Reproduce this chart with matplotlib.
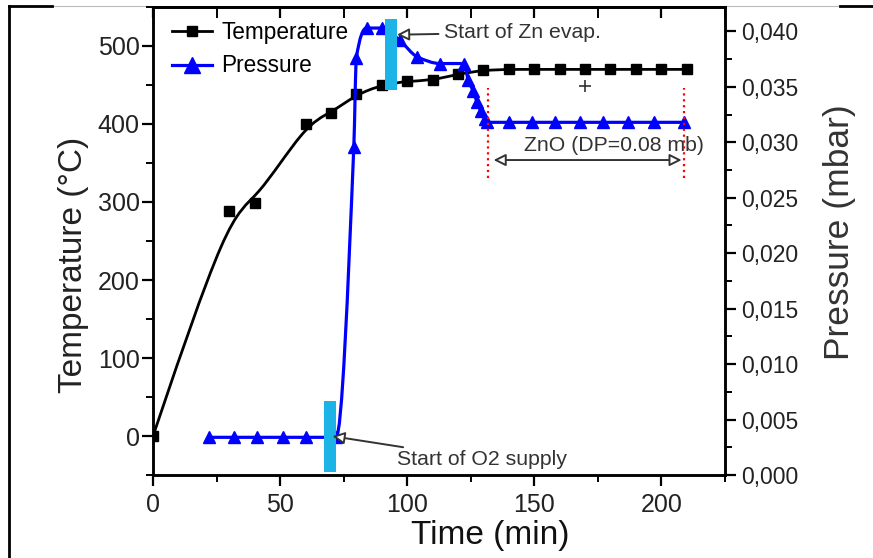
import numpy as np
import matplotlib
matplotlib.use("Agg")
import matplotlib.pyplot as plt
from matplotlib.path import Path
from matplotlib.patches import PathPatch
from matplotlib.lines import Line2D
from matplotlib.ticker import MultipleLocator, FuncFormatter

# temperature log (left axis)
temp_t = [0, 30, 40, 60, 70, 80, 90, 100, 110, 120, 130, 140, 150, 160, 170, 180, 190, 200, 210]
temp_c = [0, 288, 299, 400, 414, 438, 450, 455, 456, 464, 469, 470, 470, 470, 470, 470, 470, 470, 470]

# chamber pressure (right axis, mbar)
pres_t = [22, 32, 41, 51, 60, 72, 79, 80, 84, 90, 97, 104, 113, 122.5,
          124, 126, 127.5, 129, 130.5, 131.5,
          140, 149, 158, 168, 177, 187, 197, 209]
pres_mbar = [0.0034, 0.0034, 0.0034, 0.0034, 0.0034, 0.0034, 0.0296, 0.0376, 0.0403, 0.0403,
             0.0392, 0.0377, 0.0371, 0.0371,
             0.0356, 0.0346, 0.0336, 0.0328, 0.0321, 0.0318,
             0.0318, 0.0318, 0.0318, 0.0318, 0.0318, 0.0318, 0.0318, 0.0318]

# process events (cyan bars), in pressure units
event_t = [69.5, 93.5]
event_lo = [0.0003, 0.0347]
event_hi = [0.0067, 0.0411]

# ZnO deposition window
zno_start, zno_end = 131.8, 209
plus_t, plus_c = [170], [449]

NARROW = ['Liberation Sans Narrow', 'Liberation Sans', 'DejaVu Sans']
plt.rcParams['font.family'] = ['Liberation Sans', 'DejaVu Sans']
GREY = '#333333'


def pchip_path(xs, ys):
    # monotone cubic through the points -> bezier segments
    x = np.asarray(xs, float)
    y = np.asarray(ys, float)
    h = np.diff(x)
    d = np.diff(y) / h
    m = np.zeros_like(y)
    m[0], m[-1] = d[0], d[-1]
    for k in range(1, len(x) - 1):
        if d[k - 1] * d[k] <= 0:
            m[k] = 0
        else:
            w1 = 2 * h[k] + h[k - 1]
            w2 = h[k] + 2 * h[k - 1]
            m[k] = (w1 + w2) / (w1 / d[k - 1] + w2 / d[k])
    verts = [(x[0], y[0])]
    codes = [Path.MOVETO]
    for k in range(len(x) - 1):
        verts += [(x[k] + h[k] / 3, y[k] + m[k] * h[k] / 3),
                  (x[k + 1] - h[k] / 3, y[k + 1] - m[k + 1] * h[k] / 3),
                  (x[k + 1], y[k + 1])]
        codes += [Path.CURVE4] * 3
    return Path(verts, codes)


def bspline_path(xs, ys):
    # uniform cubic b-spline using the points as control polygon (clamped ends)
    P = np.column_stack([xs, ys]).astype(float)
    P = np.vstack([P[:1], P[:1], P, P[-1:], P[-1:]])
    verts, codes = [], []
    for i in range(1, len(P) - 2):
        b0 = (P[i - 1] + 4 * P[i] + P[i + 1]) / 6
        b1 = (2 * P[i] + P[i + 1]) / 3
        b2 = (P[i] + 2 * P[i + 1]) / 3
        b3 = (P[i] + 4 * P[i + 1] + P[i + 2]) / 6
        if not verts:
            verts.append(b0)
            codes.append(Path.MOVETO)
        verts += [b1, b2, b3]
        codes += [Path.CURVE4] * 3
    return Path(verts, codes)


fig = plt.figure(figsize=(8.73, 5.58), dpi=100)
ax = fig.add_axes([0.1753, 0.1487, 0.655, 0.8388])
ax2 = ax.twinx()

# temperature
ax.add_patch(PathPatch(bspline_path(temp_t, temp_c), fill=False, ec='black', lw=2.0))
ax.plot(temp_t, temp_c, 's', color='black', ms=7)
ax.plot(plus_t, plus_c, '+', color=GREY, ms=9, mew=1.2)

# pressure
ax2.add_patch(PathPatch(pchip_path(pres_t, pres_mbar), fill=False, ec='#0000ff', lw=2.3))
ax2.plot(pres_t, pres_mbar, '^', color='#0000ff', ms=9)

ax2.bar(event_t, np.array(event_hi) - np.array(event_lo), bottom=event_lo,
        width=4.8, color='#1cb4e6', zorder=5)

for t in (zno_start, zno_end):
    ax2.plot([t, t], [0.0268, 0.0349], ':', color='red', lw=1.6, zorder=4)

ax2.annotate('', xy=(134, 0.0284), xytext=(208, 0.0284),
             arrowprops=dict(arrowstyle='<|-|>', fc='white', ec=GREY, lw=1.4,
                             mutation_scale=18, shrinkA=0, shrinkB=0))
ax2.text(146, 0.0297, 'ZnO (DP=0.08 mb)', fontsize=15.3, color=GREY,
         family=NARROW, va='center', ha='left')

ax2.annotate('Start of Zn evap.', xy=(96, 0.0397), xytext=(114.5, 0.0399),
             fontsize=15.3, color=GREY, family=NARROW, va='center', ha='left',
             arrowprops=dict(arrowstyle='-|>', fc='white', ec=GREY, lw=1.4,
                             mutation_scale=18, shrinkA=2, shrinkB=0), zorder=6)
ax2.annotate('Start of O2 supply', xy=(70.6, 0.0035), xytext=(96, 0.0014),
             fontsize=15.3, color=GREY, family=NARROW, va='center', ha='left',
             arrowprops=dict(arrowstyle='-|>', fc='white', ec=GREY, lw=1.4,
                             mutation_scale=18, shrinkA=0, shrinkB=0), zorder=6)

# axes
ax.set_xlim(0, 225)
ax.set_ylim(-50, 550)
ax2.set_ylim(0, 0.0422)
ax.xaxis.set_major_locator(MultipleLocator(50))
ax.xaxis.set_minor_locator(MultipleLocator(25))
ax.yaxis.set_major_locator(MultipleLocator(100))
ax.yaxis.set_minor_locator(MultipleLocator(50))
ax2.yaxis.set_major_locator(MultipleLocator(0.005))
ax2.yaxis.set_minor_locator(MultipleLocator(0.0025))
ax2.yaxis.set_major_formatter(FuncFormatter(lambda v, p: f'{v:.3f}'.replace('.', ',')))

ax.tick_params(axis='both', which='major', length=8, width=1.6, labelsize=18,
               labelcolor='#222222', direction='out')
ax.tick_params(axis='both', which='minor', length=5, width=1.4, direction='out')
ax.yaxis.set_tick_params(which='major', pad=1.5)
ax.xaxis.set_tick_params(which='both', pad=5)
ax2.tick_params(axis='y', which='major', length=8, width=1.6, labelsize=16.5,
                labelcolor='#222222')
ax2.tick_params(axis='y', which='minor', length=5, width=1.4)

# top ticks point inward
top = ax.secondary_xaxis('top')
top.xaxis.set_major_locator(MultipleLocator(50))
top.xaxis.set_minor_locator(MultipleLocator(25))
top.tick_params(which='major', direction='in', length=8, width=1.6, labeltop=False)
top.tick_params(which='minor', direction='in', length=8, width=1.4)

for a in (ax, ax2, top):
    for s in a.spines.values():
        s.set_linewidth(1.8)

ax.set_xlabel('Time (min)', fontsize=24, color='#111111')
ax.set_ylabel('Temperature (°C)', fontsize=24, color='#222222')
ax2.set_ylabel('Pressure (mbar)', fontsize=25.5, color='#333333')
ax.xaxis.set_label_coords(0.59, -0.097)
ax.yaxis.set_label_coords(-0.112, 0.45)
ax2.yaxis.set_label_coords(1.172, 0.52)

handles = [Line2D([], [], color='black', lw=2, marker='s', ms=7),
           Line2D([], [], color='#0000ff', lw=2.3, marker='^', ms=11)]
ax.legend(handles, ['Temperature', 'Pressure'], loc='upper left', frameon=False,
          fontsize=16.3, handlelength=1.75, handletextpad=0.4, labelspacing=0.48,
          borderaxespad=0.2, bbox_to_anchor=(0.01, 1.0))

# page frame around the figure
fig.add_artist(Line2D([9 / 873, 9 / 873], [0, 1 - 6 / 558], color='black', lw=2))
fig.add_artist(Line2D([9 / 873, 52 / 873], [1 - 6 / 558] * 2, color='black', lw=2))
fig.add_artist(Line2D([840 / 873, 1], [1 - 6 / 558] * 2, color='black', lw=2))
fig.add_artist(Line2D([52 / 873, 840 / 873], [1 - 6 / 558] * 2, color='#bbbbbb', lw=0.8, zorder=0))

fig.savefig('out.png', dpi=100)
